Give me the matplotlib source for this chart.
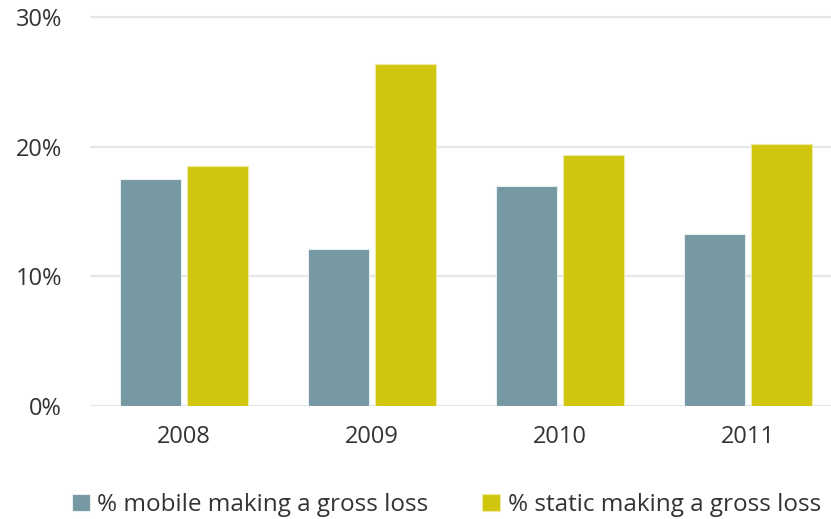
import matplotlib
matplotlib.use("Agg")
import matplotlib.pyplot as plt
import numpy as np

years = ["2008", "2009", "2010", "2011"]
mobile = [17.5, 12.1, 17.0, 13.3]
static = [18.5, 26.4, 19.4, 20.2]
yticks = [0, 10, 20, 30]
ytick_labels = ["0%", "10%", "20%", "30%"]
series_names = ["% mobile making a gross loss", "% static making a gross loss"]

c_mobile = "#7598A3"
c_static = "#D0C60E"
txt = "#333333"

plt.rcParams['font.family'] = ['Open Sans', 'DejaVu Sans']

fig = plt.figure(figsize=(8.31, 5.19), dpi=100)
ax = fig.add_axes([90/831, (519-406)/519, (842-90)/831, (406-14.9)/519])

x = np.arange(len(years))
w = 0.324
off = 0.178
ax.bar(x - off, mobile, w, color=c_mobile, edgecolor="#e6eef0", linewidth=0.8, zorder=3, label=series_names[0])
ax.bar(x + off, static, w, color=c_static, edgecolor="#eeeaa0", linewidth=0.8, zorder=3, label=series_names[1])

ax.set_xlim(-0.5, 3.5)
ax.set_ylim(0, 30.2)
ax.set_yticks(yticks)
ax.set_yticklabels(ytick_labels)
ax.set_xticks(x)
ax.set_xticklabels(years)
ax.yaxis.grid(True, color="#E6E6E6", linewidth=1.6, zorder=0)
ax.set_axisbelow(True)
for s in ax.spines.values():
    s.set_visible(False)
ax.tick_params(axis='y', length=0, colors=txt, labelsize=17, pad=20)
ax.tick_params(axis='x', length=0, colors=txt, labelsize=17, pad=14)

fig.legend(loc="center", bbox_to_anchor=(0.537, (519-505)/519), ncol=2, frameon=False,
           fontsize=17.5, handlelength=0.75, handleheight=0.75, handletextpad=0.3,
           columnspacing=2.2, labelcolor=txt)

fig.savefig("out.png", dpi=100)
